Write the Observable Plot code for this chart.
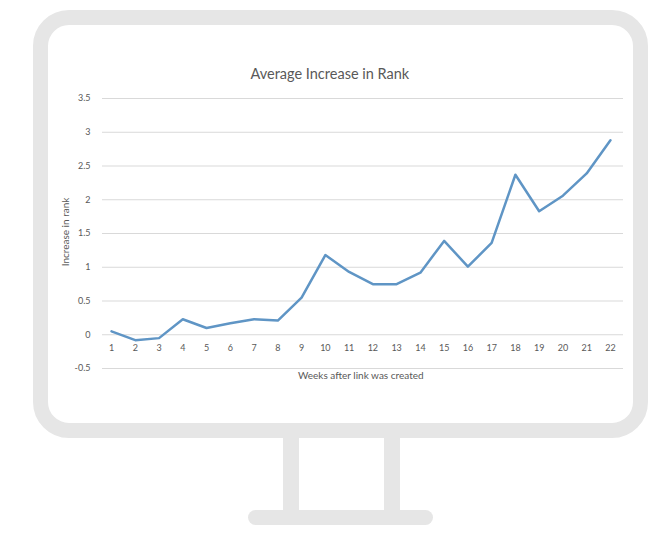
<!DOCTYPE html>
<html>
<head>
<meta charset="utf-8">
<script src="https://cdn.jsdelivr.net/npm/d3@7"></script>
<script src="https://cdn.jsdelivr.net/npm/@observablehq/plot@0.6"></script>
<style>
  html, body { margin: 0; padding: 0; background: #fff; }
  #page { position: relative; width: 666px; height: 546px; overflow: hidden; font-family: Lato, "Open Sans", sans-serif; }
  .gray { position: absolute; background: #e6e6e6; }
  #screen { position: absolute; left: 33px; top: 10px; width: 585px; height: 398px; border: 15px solid #e6e6e6; border-radius: 36px; background: #fff; }
  #chart { position: absolute; left: 48px; top: 25px; }
  .title { position: absolute; color: #595959; white-space: nowrap; }
</style>
</head>
<body>
<div id="page">
  <div class="gray" style="left:283px; top:436px; width:16px; height:80px;"></div>
  <div class="gray" style="left:384px; top:436px; width:16px; height:80px;"></div>
  <div class="gray" style="left:248px; top:510px; width:185px; height:15px; border-radius:8px;"></div>
  <div id="screen"></div>
  <div id="chart"></div>
  <div class="title" id="t1" style="top:65px; font-size:14.5px;">Average Increase in Rank</div>
  <div class="title" id="t2" style="top:369px; font-size:10px;">Weeks after link was created</div>
  <div class="title" id="t3" style="font-size:10px; transform-origin: center; ">Increase in rank</div>
</div>
<script>
const weeks = [1,2,3,4,5,6,7,8,9,10,11,12,13,14,15,16,17,18,19,20,21,22];
const increase = [0.05,-0.08,-0.05,0.23,0.10,0.17,0.23,0.21,0.55,1.18,0.93,0.75,0.75,0.92,1.39,1.01,1.36,2.37,1.83,2.06,2.39,2.88];
const yTicks = [-0.5,0,0.5,1,1.5,2,2.5,3,3.5];

const data = weeks.map((w, i) => ({week: w, value: increase[i]}));

const chart = Plot.plot({
  width: 587,
  height: 400,
  marginLeft: 54,
  marginRight: 12,
  marginTop: 73,
  marginBottom: 57,
  style: {fontFamily: "Lato, 'Open Sans', sans-serif", fontSize: "9px", color: "#595959", background: "transparent"},
  x: {domain: [0.62, 22.55], axis: null},
  y: {domain: [-0.5, 3.5], axis: null},
  marks: [
    Plot.ruleY(yTicks, {stroke: "#d9d9d9", strokeWidth: 1}),
    Plot.axisY(yTicks, {tickSize: 0, tickPadding: 12, tickFormat: d => String(d), label: null, fill: "#595959", fontSize: 9}),
    Plot.text(weeks, {x: d => d, y: 0, dy: 13, text: d => String(d), fill: "#595959", fontSize: 9}),
    Plot.line(data, {x: "week", y: "value", stroke: "#5f95c5", strokeWidth: 2.5, strokeLinejoin: "round"})
  ]
});
document.getElementById("chart").appendChild(chart);

// center titles
function place(id, cx) {
  const el = document.getElementById(id);
  el.style.left = (cx - el.offsetWidth / 2) + "px";
}
place("t1", 330);
place("t2", 361);
const t3 = document.getElementById("t3");
t3.style.left = (65 - t3.offsetWidth / 2) + "px";
t3.style.top = (232 - t3.offsetHeight / 2) + "px";
t3.style.transform = "rotate(-90deg)";
</script>
</body>
</html>
